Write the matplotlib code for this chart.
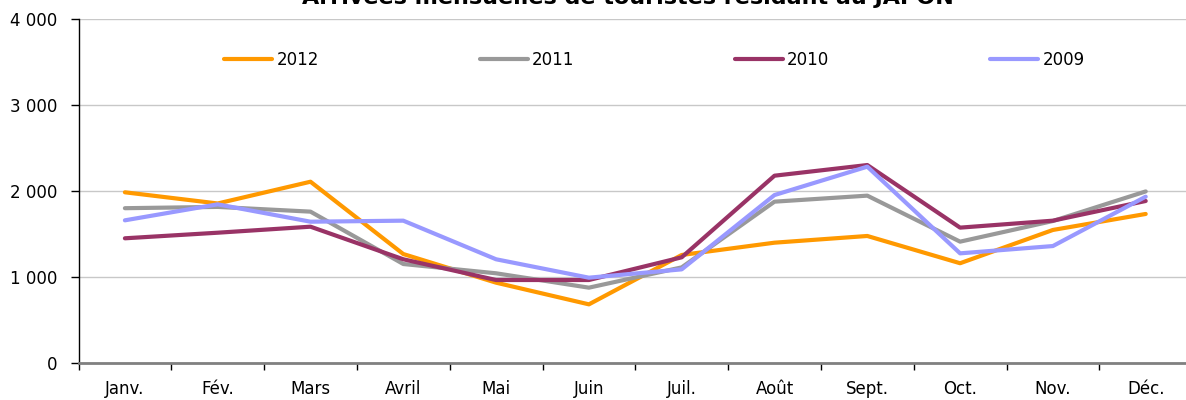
import matplotlib
matplotlib.use("Agg")
import matplotlib.pyplot as plt
import numpy as np

months = ["Janv.", "Fév.", "Mars", "Avril", "Mai", "Juin", "Juil.", "Août",
          "Sept.", "Oct.", "Nov.", "Déc."]
series_names = ["2012", "2011", "2010", "2009"]
v2012 = [1985, 1855, 2108, 1267, 934, 682, 1256, 1399, 1477, 1160, 1547, 1733]
v2011 = [1800, 1815, 1760, 1151, 1043, 876, 1112, 1876, 1946, 1411, 1651, 1995]
v2010 = [1450, 1515, 1585, 1206, 965, 965, 1229, 2178, 2302, 1574, 1655, 1884]
v2009 = [1659, 1845, 1643, 1655, 1206, 992, 1089, 1953, 2283, 1275, 1360, 1934]
colors = ["#FF9900", "#999999", "#993366", "#9999FF"]
title = "Arrivées mensuelles de touristes résidant au JAPON"
yticks = [0, 1000, 2000, 3000, 4000]
ytick_labels = ["0", "1 000", "2 000", "3 000", "4 000"]

W, H = 1186, 400
fig = plt.figure(figsize=(W / 100, H / 100), dpi=100)
left, right_px, top, bottom = 78.5, 78.5 + 12 * 92.8, 19, 363
ax = fig.add_axes([left / W, (H - bottom) / H, (right_px - left) / W, (bottom - top) / H])

x = np.arange(len(months))
for vals, name, c in zip([v2012, v2011, v2010, v2009], series_names, colors):
    ax.plot(x, vals, color=c, lw=3, label=name, solid_capstyle="round", zorder=3)

fs = 12
ax.set_xlim(-0.5, len(months) - 0.5)
ax.set_ylim(0, 4000)
ax.set_yticks(yticks)
ax.set_yticklabels(ytick_labels, fontsize=fs)
ax.set_xticks(x)
ax.set_xticklabels(months, fontsize=fs)
ax.set_xticks(np.arange(-0.5, len(months)), minor=True)
ax.tick_params(axis="x", which="major", length=0, pad=12)
ax.tick_params(axis="x", which="minor", length=5, width=1, color="#000000", direction="out")
ax.tick_params(axis="y", length=6, width=1, pad=9, direction="out")
ax.yaxis.grid(True, color="#c8c8c8", lw=1)
ax.set_axisbelow(True)
for s in ["top", "right"]:
    ax.spines[s].set_visible(False)
ax.spines["left"].set_color("#000000")
ax.spines["left"].set_linewidth(1)
ax.spines["bottom"].set_color("#808080")
ax.spines["bottom"].set_linewidth(2)
ax.spines["bottom"].set_zorder(4)

fpx = fs * 100 / 72
leg = fig.legend(loc="center left", bbox_to_anchor=(216 / W, 1 - 60 / H),
                 bbox_transform=fig.transFigure, ncol=4, frameon=False,
                 fontsize=fs, handlelength=48 / fpx, handletextpad=4 / fpx,
                 borderpad=0, columnspacing=(257 - 48 - 4 - 44) / fpx)

fig.text(628 / W, 1 - 4 / H, title, ha="center", va="baseline",
         fontsize=16, fontweight="bold")

fig.savefig("out.png", dpi=100)
